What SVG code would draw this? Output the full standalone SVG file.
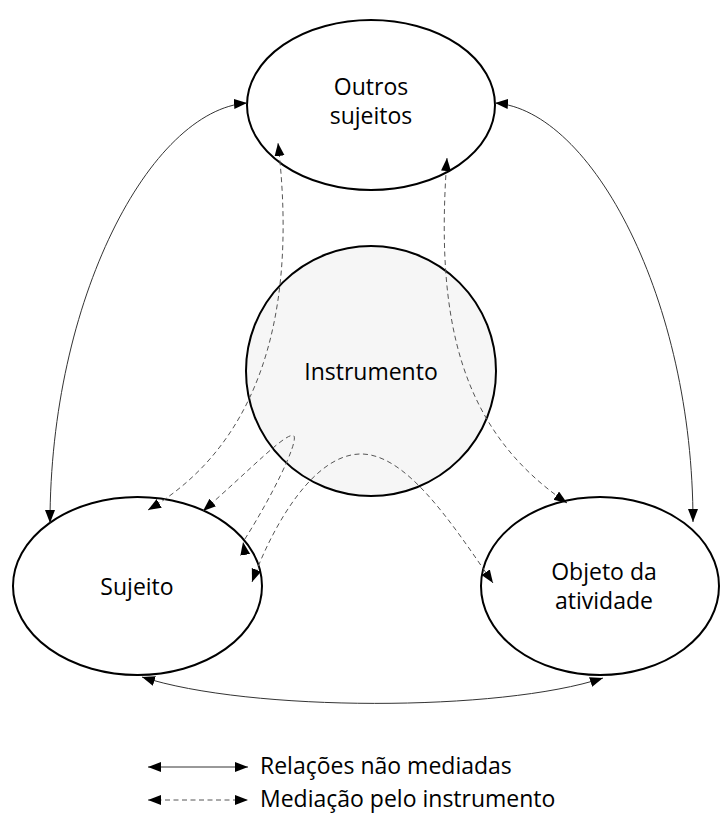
<svg xmlns="http://www.w3.org/2000/svg" width="721" height="816" viewBox="0 0 721 816">
<style>
.node{fill:#fff;stroke:#000;stroke-width:2}
.inst{fill:#f6f6f6;stroke:#000;stroke-width:2}
.lbl{font-family:"Open Sans","Noto Sans","Liberation Sans",sans-serif;font-size:23px;fill:#000;text-anchor:middle}
.leg{font-family:"Open Sans","Noto Sans","Liberation Sans",sans-serif;font-size:23px;fill:#000}
.solid{fill:none;stroke:#333;stroke-width:1}
.dash{fill:none;stroke:#555;stroke-width:1;stroke-dasharray:5,3.5}
</style>
<defs>
<marker id="ah" markerUnits="userSpaceOnUse" markerWidth="14" markerHeight="11" refX="13" refY="5" orient="auto-start-reverse" viewBox="0 0 14 11">
<path d="M0,0 L13,5 L0,10 z" fill="#000"/>
</marker>
<marker id="ahUp" markerUnits="userSpaceOnUse" markerWidth="14" markerHeight="11" refX="13" refY="5" orient="-100" viewBox="0 0 14 11">
<path d="M0,0 L13,5 L0,10 z" fill="#000"/>
</marker>
</defs>
<rect width="721" height="816" fill="#fff"/>
<g id="n-instrumento">
<circle class="inst" cx="371" cy="371" r="125"/>
<text class="lbl" x="371" y="380">Instrumento</text>
</g>
<g id="n-outros">
<ellipse class="node" cx="371" cy="105" rx="124" ry="85"/>
<text class="lbl" x="371" y="95">Outros</text>
<text class="lbl" x="371" y="124">sujeitos</text>
</g>
<g id="n-sujeito">
<ellipse class="node" cx="137.5" cy="586" rx="124.5" ry="89"/>
<text class="lbl" x="137" y="595">Sujeito</text>
</g>
<g id="n-objeto">
<ellipse class="node" cx="600" cy="586" rx="119" ry="89"/>
<text class="lbl" x="604" y="580">Objeto da</text>
<text class="lbl" x="604" y="609">atividade</text>
</g>
<g id="connectors">
<path class="solid" d="M247,103 C150,110 50,300 50,523" marker-start="url(#ah)" marker-end="url(#ah)"/>
<path class="solid" d="M495,103 C592,110 693,300 693,522" marker-start="url(#ah)" marker-end="url(#ah)"/>
<path class="solid" d="M142,677 C250,712 500,712 603,678" marker-start="url(#ah)" marker-end="url(#ah)"/>
<path class="dash" d="M148,510 C250,450 300,330 278,143" marker-start="url(#ah)" marker-end="url(#ah)"/>
<path class="dash" d="M447,158 C435,320 460,430 567,503" marker-start="url(#ah)" marker-end="url(#ah)"/>
<path class="dash" d="M203,511 C250,470 288,430 294,436 C298,444 270,500 243,542" marker-start="url(#ah)" marker-end="url(#ahUp)"/>
<path class="dash" d="M252,582 C275,520 315,455 360,454 C405,453 450,520 493,583" marker-start="url(#ah)" marker-end="url(#ah)"/>
</g>
<g id="legend">
<path class="solid" d="M148,767 L248,767" stroke="#000" marker-start="url(#ah)" marker-end="url(#ah)"/>
<text class="leg" x="260" y="774">Relações não mediadas</text>
<path class="dash" d="M148,800 L248,800" marker-start="url(#ah)" marker-end="url(#ah)"/>
<text class="leg" x="260" y="807">Mediação pelo instrumento</text>
</g>
</svg>
